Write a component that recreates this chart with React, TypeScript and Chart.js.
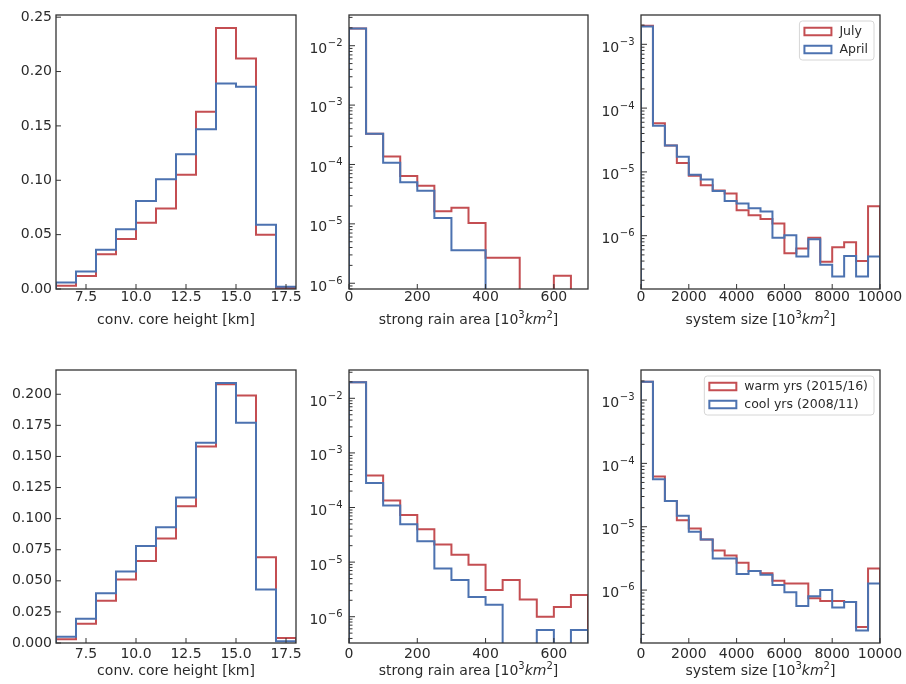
import React, { useEffect, useRef } from 'react';
import { Chart, registerables } from 'chart.js';

Chart.register(...registerables);

const W = 906;
const H = 684;
const FONT = '"DejaVu Sans", sans-serif';
const TEXT = '#2b2b2b';
const FRAME = '#333333';
const RED = '#c44e52';
const BLUE = '#4c72b0';

// ---- bin edges (categories) ----
const heightEdges = [6, 7, 8, 9, 10, 11, 12, 13, 14, 15, 16, 17, 18];
const rainEdges = [0, 50, 100, 150, 200, 250, 300, 350, 400, 450, 500, 550, 600, 650, 700];
const sizeEdges = [0, 500, 1000, 1500, 2000, 2500, 3000, 3500, 4000, 4500, 5000, 5500, 6000, 6500, 7000, 7500, 8000, 8500, 9000, 9500, 10000];

// ---- tick labels ----
const heightTicks = [7.5, 10, 12.5, 15, 17.5];
const rainTicks = [0, 200, 400, 600];
const sizeTicks = [0, 2000, 4000, 6000, 8000, 10000];
const heightYTicksTop = [0, 0.05, 0.1, 0.15, 0.2, 0.25];
const heightYTicksBottom = [0, 0.025, 0.05, 0.075, 0.1, 0.125, 0.15, 0.175, 0.2];

// ---- series: July vs April ----
const julyHeight = [0.003, 0.012, 0.032, 0.046, 0.061, 0.074, 0.105, 0.163, 0.240, 0.212, 0.050, 0.001];
const aprilHeight = [0.006, 0.016, 0.036, 0.055, 0.081, 0.101, 0.124, 0.147, 0.189, 0.186, 0.059, 0.002];
const julyRain = [0.0195, 3.3e-4, 1.36e-4, 6.4e-5, 4.4e-5, 1.63e-5, 1.86e-5, 1.03e-5, 2.7e-6, 2.7e-6, 0, 0, 1.34e-6, 0];
const aprilRain = [0.0195, 3.3e-4, 1.07e-4, 5.0e-5, 3.6e-5, 1.26e-5, 3.6e-6, 3.6e-6, 0, 0, 0, 0, 0, 0];
const julySize = [1.95e-3, 5.8e-5, 2.6e-5, 1.38e-5, 8.7e-6, 6.2e-6, 5.1e-6, 4.6e-6, 2.5e-6, 2.1e-6, 1.83e-6, 1.55e-6, 5.3e-7, 6.3e-7, 9.3e-7, 3.9e-7, 6.6e-7, 7.9e-7, 4.0e-7, 2.9e-6];
const aprilSize = [1.9e-3, 5.3e-5, 2.6e-5, 1.72e-5, 9.0e-6, 7.6e-6, 5.0e-6, 3.5e-6, 3.2e-6, 2.7e-6, 2.4e-6, 9.3e-7, 1.02e-6, 4.7e-7, 8.8e-7, 3.5e-7, 2.3e-7, 4.8e-7, 2.3e-7, 4.7e-7];

// ---- series: warm vs cool years ----
const warmHeight = [0.003, 0.0155, 0.034, 0.051, 0.066, 0.084, 0.110, 0.158, 0.208, 0.199, 0.069, 0.004];
const coolHeight = [0.005, 0.0195, 0.040, 0.0575, 0.078, 0.093, 0.117, 0.161, 0.209, 0.177, 0.043, 0.0015];
const warmRain = [0.0197, 3.85e-4, 1.34e-4, 7.3e-5, 4.0e-5, 2.1e-5, 1.36e-5, 8.9e-6, 3.1e-6, 4.7e-6, 2.06e-6, 1.0e-6, 1.5e-6, 2.5e-6];
const coolRain = [0.0197, 2.8e-4, 1.09e-4, 4.95e-5, 2.4e-5, 7.6e-6, 4.7e-6, 2.3e-6, 1.66e-6, 0, 0, 5.7e-7, 0, 5.7e-7];
const warmSize = [1.95e-3, 6.2e-5, 2.54e-5, 1.27e-5, 9.4e-6, 6.3e-6, 4.2e-6, 3.5e-6, 2.7e-6, 2.0e-6, 1.85e-6, 1.4e-6, 1.27e-6, 1.27e-6, 7.4e-7, 6.7e-7, 6.7e-7, 6.5e-7, 2.6e-7, 2.2e-6];
const coolSize = [1.95e-3, 5.6e-5, 2.54e-5, 1.49e-5, 8.3e-6, 6.3e-6, 3.15e-6, 3.15e-6, 1.8e-6, 2.0e-6, 1.75e-6, 1.2e-6, 9.2e-7, 5.6e-7, 8.0e-7, 1.0e-6, 5.3e-7, 6.5e-7, 2.3e-7, 1.27e-6];

const labelsTop = ['July', 'April'];
const labelsBottom = ['warm yrs (2015/16)', 'cool yrs (2008/11)'];

// axis titles as [text, style] parts: n = normal, sup = superscript, it = italic
const titleHeight: [string, string][] = [['conv. core height [km]', 'n']];
const titleRain: [string, string][] = [['strong rain area [10', 'n'], ['3', 'sup'], ['km', 'it'], ['2', 'sup'], [']', 'n']];
const titleSize: [string, string][] = [['system size [10', 'n'], ['3', 'sup'], ['km', 'it'], ['2', 'sup'], [']', 'n']];

type Panel = {
  edges: number[];
  a: number[];
  b: number[];
  labels: string[];
  legend: boolean;
  xTicks: number[];
  xDec: number;
  xTitle: [string, string][];
  log: boolean;
  yMin: number;
  yMax: number;
  yTicks?: number[];
  yDec?: number;
  rect: { l: number; t: number; r: number; b: number };
  row: number;
};

const panels: Panel[] = [
  { edges: heightEdges, a: julyHeight, b: aprilHeight, labels: labelsTop, legend: false, xTicks: heightTicks, xDec: 1, xTitle: titleHeight, log: false, yMin: 0, yMax: 0.252, yTicks: heightYTicksTop, yDec: 2, rect: { l: 56, t: 15, r: 296, b: 289 }, row: 0 },
  { edges: rainEdges, a: julyRain, b: aprilRain, labels: labelsTop, legend: false, xTicks: rainTicks, xDec: 0, xTitle: titleRain, log: true, yMin: 8.0e-7, yMax: 0.0329, rect: { l: 349, t: 15, r: 588, b: 289 }, row: 0 },
  { edges: sizeEdges, a: julySize, b: aprilSize, labels: labelsTop, legend: true, xTicks: sizeTicks, xDec: 0, xTitle: titleSize, log: true, yMin: 1.46e-7, yMax: 2.88e-3, rect: { l: 641, t: 15, r: 880, b: 289 }, row: 0 },
  { edges: heightEdges, a: warmHeight, b: coolHeight, labels: labelsBottom, legend: false, xTicks: heightTicks, xDec: 1, xTitle: titleHeight, log: false, yMin: 0, yMax: 0.2195, yTicks: heightYTicksBottom, yDec: 3, rect: { l: 56, t: 370, r: 296, b: 643 }, row: 1 },
  { edges: rainEdges, a: warmRain, b: coolRain, labels: labelsBottom, legend: false, xTicks: rainTicks, xDec: 0, xTitle: titleRain, log: true, yMin: 3.3e-7, yMax: 0.033, rect: { l: 349, t: 370, r: 588, b: 643 }, row: 1 },
  { edges: sizeEdges, a: warmSize, b: coolSize, labels: labelsBottom, legend: true, xTicks: sizeTicks, xDec: 0, xTitle: titleSize, log: true, yMin: 1.46e-7, yMax: 2.98e-3, rect: { l: 641, t: 370, r: 880, b: 643 }, row: 1 },
];

const rowCfg = [
  { tickPad: 0, axisH: 38.4, titleOff: 30 },
  { tickPad: 2.6, axisH: 35.4, titleOff: 27 },
];

const isPow10 = (v: number) => Math.abs(Math.log10(v) - Math.round(Math.log10(v))) < 1e-6;

function stepPoints(edges: number[], values: number[], floor: number) {
  const vals = values.map((v) => (v > 0 ? v : floor));
  const n = vals.length;
  const pts = [{ x: edges[0], y: floor }];
  vals.forEach((v, i) => pts.push({ x: edges[i], y: v }));
  pts.push({ x: edges[n], y: vals[n - 1] });
  pts.push({ x: edges[n], y: floor });
  return pts;
}

function logTicks(min: number, max: number) {
  const out: { value: number }[] = [];
  for (let e = Math.floor(Math.log10(min)); e <= Math.ceil(Math.log10(max)); e++) {
    for (let k = 1; k <= 9; k++) {
      const v = k * Math.pow(10, e);
      if (v >= min * 0.9999 && v <= max * 1.0001) out.push({ value: v });
    }
  }
  return out;
}

const fontOf = (style: string) =>
  style === 'sup' ? `10px ${FONT}` : style === 'it' ? `italic 14px ${FONT}` : `14px ${FONT}`;

const axesPlugin = {
  id: 'mplAxes',
  afterDatasetsDraw(chart: any, _args: any, opts: any) {
    const { ctx, chartArea: a } = chart;
    const xs = chart.scales.x;
    const ys = chart.scales.y;
    ctx.save();
    ctx.strokeStyle = FRAME;
    ctx.lineWidth = 1;
    ctx.beginPath();
    xs.ticks.forEach((t: any) => {
      const px = xs.getPixelForValue(t.value);
      ctx.moveTo(px, a.bottom);
      ctx.lineTo(px, a.bottom - 5);
    });
    ys.ticks.forEach((t: any) => {
      const py = ys.getPixelForValue(t.value);
      const len = opts.log ? (isPow10(t.value) ? 6 : 3.5) : 5;
      ctx.moveTo(a.left, py);
      ctx.lineTo(a.left + len, py);
    });
    ctx.stroke();
    ctx.lineWidth = 1.3;
    ctx.strokeRect(a.left, a.top, a.right - a.left, a.bottom - a.top);

    ctx.fillStyle = TEXT;
    ctx.textAlign = 'left';
    ctx.textBaseline = 'alphabetic';

    // log-axis tick labels 10^n with a raised exponent
    if (opts.log) {
      ys.ticks.forEach((t: any) => {
        if (!isPow10(t.value)) return;
        const py = ys.getPixelForValue(t.value);
        const e = Math.round(Math.log10(t.value));
        const expStr = (e < 0 ? '\u2212' : '') + Math.abs(e);
        ctx.font = `14px ${FONT}`;
        const w1 = ctx.measureText('10').width;
        ctx.font = `10px ${FONT}`;
        const w2 = ctx.measureText(expStr).width;
        const x0 = a.left - 7 - w1 - w2;
        ctx.font = `14px ${FONT}`;
        ctx.fillText('10', x0, py + 7.4);
        ctx.font = `10px ${FONT}`;
        ctx.fillText(expStr, x0 + w1 + 0.5, py + 0.4);
      });
    }

    // axis title with mixed styles
    const parts: [string, string][] = opts.title;
    let total = 0;
    parts.forEach(([t, s]) => {
      ctx.font = fontOf(s);
      total += ctx.measureText(t).width;
    });
    let x = (a.left + a.right) / 2 - total / 2;
    const base = a.bottom + opts.titleOff + 4.8;
    parts.forEach(([t, s]) => {
      ctx.font = fontOf(s);
      ctx.fillText(t, x, s === 'sup' ? base - 6 : base);
      x += ctx.measureText(t).width;
    });

    if (opts.legend) {
      const items = chart.data.datasets
        .map((d: any) => ({ label: d.label, color: d.borderColor, k: d.legendIndex }))
        .sort((p: any, q: any) => p.k - q.k);
      ctx.font = `12.5px ${FONT}`;
      const textW = Math.max(...items.map((i: any) => ctx.measureText(i.label).width));
      const padL = 5, handleW = 27, handleH = 7.5, gap = 8, padR = 6;
      const w = padL + handleW + gap + textW + padR;
      const h = 39;
      const x0 = a.right - 6 - w;
      const y0 = a.top + 6;
      ctx.beginPath();
      const r = 3;
      ctx.moveTo(x0 + r, y0);
      ctx.arcTo(x0 + w, y0, x0 + w, y0 + h, r);
      ctx.arcTo(x0 + w, y0 + h, x0, y0 + h, r);
      ctx.arcTo(x0, y0 + h, x0, y0, r);
      ctx.arcTo(x0, y0, x0 + w, y0, r);
      ctx.closePath();
      ctx.fillStyle = 'rgba(255,255,255,0.8)';
      ctx.fill();
      ctx.strokeStyle = '#d6d6d6';
      ctx.lineWidth = 1;
      ctx.stroke();
      items.forEach((it: any, i: number) => {
        const yc = y0 + 10.5 + i * 18;
        ctx.strokeStyle = it.color;
        ctx.lineWidth = 2;
        ctx.strokeRect(x0 + padL, yc - handleH / 2, handleW, handleH);
        ctx.fillStyle = TEXT;
        ctx.textBaseline = 'middle';
        ctx.textAlign = 'left';
        ctx.fillText(it.label, x0 + padL + handleW + gap, yc);
      });
    }
    ctx.restore();
  },
};

function PanelChart({ p }: { p: Panel }) {
  const ref = useRef<HTMLCanvasElement>(null);
  useEffect(() => {
    if (!ref.current) return;
    const rc = rowCfg[p.row];
    const floor = p.log ? p.yMin / 1000 : 0;
    const yAxisW = 50;
    const chart = new Chart(ref.current, {
      type: 'line',
      data: {
        datasets: [
          {
            label: p.labels[0],
            legendIndex: 0,
            data: stepPoints(p.edges, p.a, floor),
            borderColor: RED,
            borderWidth: 2,
            pointRadius: 0,
            fill: false,
            stepped: true,
            order: 1,
          } as any,
          {
            label: p.labels[1],
            legendIndex: 1,
            data: stepPoints(p.edges, p.b, floor),
            borderColor: BLUE,
            borderWidth: 2,
            pointRadius: 0,
            fill: false,
            stepped: true,
            order: 0,
          } as any,
        ],
      },
      options: {
        animation: false,
        responsive: false,
        devicePixelRatio: 1,
        events: [],
        layout: {
          padding: {
            left: p.rect.l - yAxisW,
            top: p.rect.t,
            right: W - p.rect.r,
            bottom: H - p.rect.b - rc.axisH,
          },
        },
        plugins: {
          legend: { display: false },
          tooltip: { enabled: false },
          mplAxes: { legend: p.legend, log: p.log, title: p.xTitle, titleOff: rc.titleOff },
        } as any,
        scales: {
          x: {
            type: 'linear',
            min: p.edges[0],
            max: p.edges[p.edges.length - 1],
            grid: { display: false, drawTicks: false },
            border: { display: false },
            afterBuildTicks: (s: any) => {
              s.ticks = p.xTicks.map((v) => ({ value: v }));
            },
            afterFit: (s: any) => {
              s.height = rc.axisH;
            },
            ticks: {
              autoSkip: false,
              maxRotation: 0,
              padding: rc.tickPad,
              color: TEXT,
              font: { family: FONT, size: 14 },
              callback: (v: any) => Number(v).toFixed(p.xDec),
            },
            title: { display: false },
          },
          y: {
            type: p.log ? 'logarithmic' : 'linear',
            min: p.yMin,
            max: p.yMax,
            grid: { display: false, drawTicks: false },
            border: { display: false },
            afterBuildTicks: (s: any) => {
              s.ticks = p.log ? logTicks(p.yMin, p.yMax) : (p.yTicks || []).map((v) => ({ value: v }));
            },
            afterFit: (s: any) => {
              s.width = yAxisW;
            },
            ticks: {
              autoSkip: false,
              padding: 4,
              color: TEXT,
              font: { family: FONT, size: 14 },
              callback: (v: any) => (p.log ? '' : Number(v).toFixed(p.yDec || 0)),
            },
          },
        } as any,
      },
      plugins: [axesPlugin as any],
    });
    return () => chart.destroy();
  }, [p]);
  return (
    <canvas
      ref={ref}
      width={W}
      height={H}
      style={{ position: 'absolute', left: 0, top: 0, width: W, height: H }}
    />
  );
}

export default function App() {
  return (
    <div style={{ position: 'absolute', left: 0, top: 0, width: W, height: H, background: '#ffffff', overflow: 'hidden' }}>
      {panels.map((p, i) => (
        <PanelChart key={i} p={p} />
      ))}
    </div>
  );
}
